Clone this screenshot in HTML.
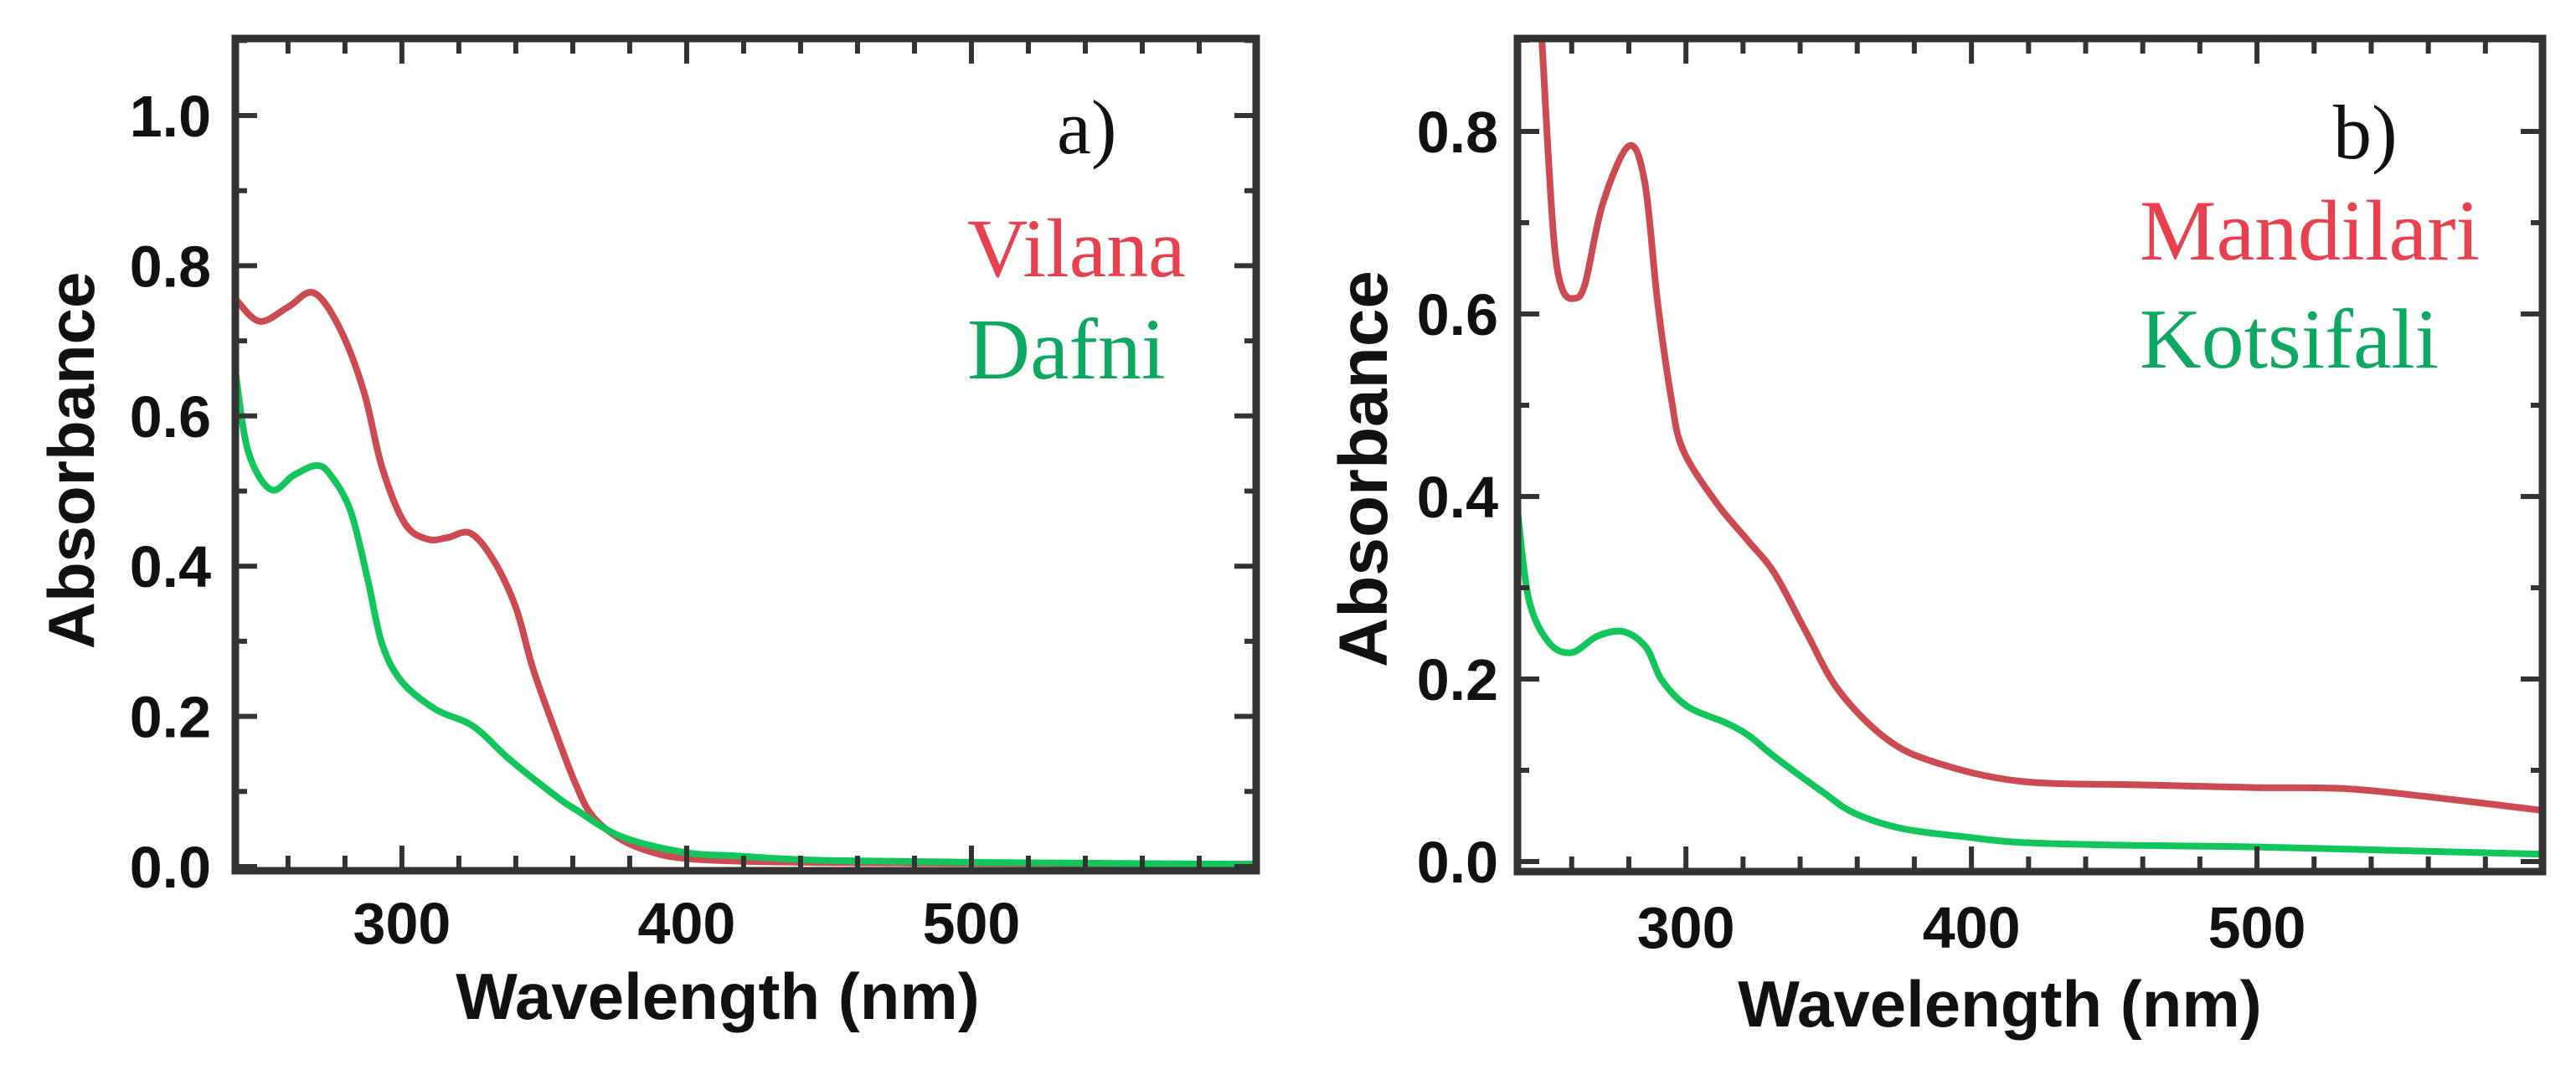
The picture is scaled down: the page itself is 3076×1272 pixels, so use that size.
<!DOCTYPE html>
<html><head><meta charset="utf-8"><style>
html,body{margin:0;padding:0;background:#fff;}
svg{display:block;}
.tk{font-family:"Liberation Sans",sans-serif;font-weight:bold;font-size:70px;fill:#111;}
.ttl{font-family:"Liberation Sans",sans-serif;font-weight:bold;fill:#111;}
.lg{font-family:"Liberation Serif",serif;}
</style></head><body>
<svg id="chart" width="3076" height="1272" viewBox="0 0 3076 1272" xmlns="http://www.w3.org/2000/svg"></svg>
<script>
// ---- data ----
const aVilanaX = [241.5,250,260,269,278,286.6,293,301,309,316,324,332,340,346,354,361,367,377,388,399,420,460,520,600];
const aVilanaY = [0.756,0.726,0.745,0.764,0.718,0.633,0.532,0.457,0.436,0.438,0.444,0.409,0.345,0.264,0.179,0.110,0.067,0.036,0.019,0.011,0.007,0.005,0.004,0.003];
const aDafniX = [241.5,246,254,262,270,275,282,288,293,300,312,325,338,354,361,377,399,418,450,520,600];
const aDafniY = [0.660,0.553,0.502,0.521,0.534,0.521,0.473,0.382,0.297,0.246,0.209,0.187,0.142,0.094,0.076,0.040,0.019,0.014,0.008,0.005,0.003];
const bMandilariX = [247,251.5,254,256.7,260.6,264.6,270.8,280,285.6,290,294.8,299,310.7,321.9,331,342,353.4,370,387,417,460,500,530,560,600];
const bMandilariY = [1.05,0.790,0.673,0.627,0.617,0.632,0.720,0.784,0.744,0.615,0.509,0.451,0.393,0.351,0.316,0.252,0.188,0.135,0.109,0.088,0.084,0.081,0.080,0.071,0.056];
const bKotsifaliX = [241,245,252,260,269,278,286,291.5,300.5,314,322,331,348,359,376,398,417,450,500,550,600];
const bKotsifaliY = [0.385,0.287,0.240,0.229,0.247,0.252,0.235,0.199,0.170,0.152,0.138,0.115,0.076,0.053,0.036,0.027,0.021,0.018,0.016,0.012,0.008];
const xMajorTicks = [300,400,500];
const xTickLabels = ["300","400","500"];
const aYTicks = [0,0.2,0.4,0.6,0.8,1.0];
const aYTickLabels = ["0.0","0.2","0.4","0.6","0.8","1.0"];
const bYTicks = [0,0.2,0.4,0.6,0.8];
const bYTickLabels = ["0.0","0.2","0.4","0.6","0.8"];

const NS="http://www.w3.org/2000/svg";
const svg=document.getElementById('chart');
function mk(tag,attrs,parent){const e=document.createElementNS(NS,tag);for(const k in attrs)e.setAttribute(k,attrs[k]);(parent||svg).appendChild(e);return e;}

function panel(cfg){
  const g=mk('g',{});
  
  
  const L=cfg.left,R=cfg.right,T=cfg.top,B=cfg.bottom;
  const sx=v=>L+(v-cfg.xmin)/(cfg.xmax-cfg.xmin)*(R-L);
  const sy=v=>B-(v-cfg.ymin)/(cfg.ymax-cfg.ymin)*(B-T);
  const clip='clip-'+cfg.name;
  const cp=mk('clipPath',{id:clip},g);mk('rect',{x:L,y:T,width:R-L,height:B-T},cp);
  // series
  cfg.series.forEach(s=>{
    const pts=s.x.map((xv,i)=>[sx(xv),sy(s.y[i])]);
    let d='M'+pts[0][0]+','+pts[0][1];
    for(let i=0;i<pts.length-1;i++){
      const p0=pts[Math.max(0,i-1)],p1=pts[i],p2=pts[i+1],p3=pts[Math.min(pts.length-1,i+2)];
      const c1=[p1[0]+(p2[0]-p0[0])/6,p1[1]+(p2[1]-p0[1])/6];
      const c2=[p2[0]-(p3[0]-p1[0])/6,p2[1]-(p3[1]-p1[1])/6];
      d+=' C'+c1[0]+','+c1[1]+' '+c2[0]+','+c2[1]+' '+p2[0]+','+p2[1];
    }
    const p=mk('path',{d:d,fill:'none',stroke:s.color,'stroke-width':8,'stroke-linejoin':'round','clip-path':'url(#'+clip+')'},g);
    
    
  });
  // ticks
  const tg=mk('g',{stroke:'#333','stroke-width':6},g);
  for(let v=260;v<=cfg.xmax;v+=20){
    const major=xMajorTicks.includes(v);const len=major?30:18;const x=sx(v);
    mk('line',{x1:x,y1:B,x2:x,y2:B-len},tg);
    mk('line',{x1:x,y1:T,x2:x,y2:T+len},tg);
  }
  for(let k=0;k*0.1<=cfg.ymax+1e-9;k++){
    const v=k*0.1;const major=k%2===0;const len=major?26:14;const y=sy(v);
    mk('line',{x1:L,y1:y,x2:L+len,y2:y},tg);
    mk('line',{x1:R,y1:y,x2:R-len,y2:y},tg);
  }
  // frame
  const fr=mk('rect',{x:L,y:T,width:R-L,height:B-T,fill:'none',stroke:'#333','stroke-width':9},g);
  
  
  // labels
  xMajorTicks.forEach((v,i)=>{
    const t=mk('text',{x:sx(v),y:cfg.xLabelY,'text-anchor':'middle',class:'tk'},g);
    t.textContent=xTickLabels[i];
    
    
  });
  cfg.yTicks.forEach((v,i)=>{
    const t=mk('text',{x:cfg.yLabelX,y:sy(v)+25,'text-anchor':'end',class:'tk'},g);
    t.textContent=cfg.yLabels[i];
    
    
  });
  const xt=mk('text',{x:cfg.xTitleX,y:cfg.xTitleY,'text-anchor':'middle',class:'ttl','font-size':78},g);
  xt.textContent='Wavelength (nm)';
  
  
  const yt=mk('text',{x:0,y:0,'text-anchor':'middle',class:'ttl','font-size':cfg.yTitleSize,transform:'translate('+cfg.yTitleX+','+cfg.yTitleY+') rotate(-90)'},g);
  yt.textContent='Absorbance';
  
  
  cfg.texts.forEach(tx=>{
    const t=mk('text',{x:tx.x,y:tx.y,class:'lg','font-size':tx.size,fill:tx.color},g);
    t.textContent=tx.text;
    
    
  });
}

panel({name:'panel-a',left:281,right:1500,top:46,bottom:1040,xmin:241.5,xmax:600,ymin:-0.0056,ymax:1.1026,
  series:[{name:'vilana-line',x:aVilanaX,y:aVilanaY,color:'#cc4a52'},{name:'dafni-line',x:aDafniX,y:aDafniY,color:'#12c65c'}],
  yTicks:aYTicks,yLabels:aYTickLabels,yLabelX:252,xLabelY:1127,xTitleX:857,xTitleY:1217,yTitleX:112,yTitleY:550,yTitleSize:78,
  texts:[{name:'panel-a-label',text:'a)',x:1262,y:183,size:92,color:'#111'},
         {name:'legend-vilana',text:'Vilana',x:1155,y:330,size:100,color:'#e8404e'},
         {name:'legend-dafni',text:'Dafni',x:1155,y:452,size:104,color:'#0fa862'}]});
panel({name:'panel-b',left:1812,right:3036,top:46,bottom:1041,xmin:241,xmax:600,ymin:-0.011,ymax:0.9018,
  series:[{name:'mandilari-line',x:bMandilariX,y:bMandilariY,color:'#cc4a52'},{name:'kotsifali-line',x:bKotsifaliX,y:bKotsifaliY,color:'#12c65c'}],
  yTicks:bYTicks,yLabels:bYTickLabels,yLabelX:1789,xLabelY:1132,xTitleX:2388,xTitleY:1226,yTitleX:1656,yTitleY:560,yTitleSize:82,
  texts:[{name:'panel-b-label',text:'b)',x:2786,y:189,size:92,color:'#111'},
         {name:'legend-mandilari',text:'Mandilari',x:2555,y:310,size:103,color:'#e8404e'},
         {name:'legend-kotsifali',text:'Kotsifali',x:2555,y:439,size:102,color:'#0fa862'}]});
</script>
</body></html>
